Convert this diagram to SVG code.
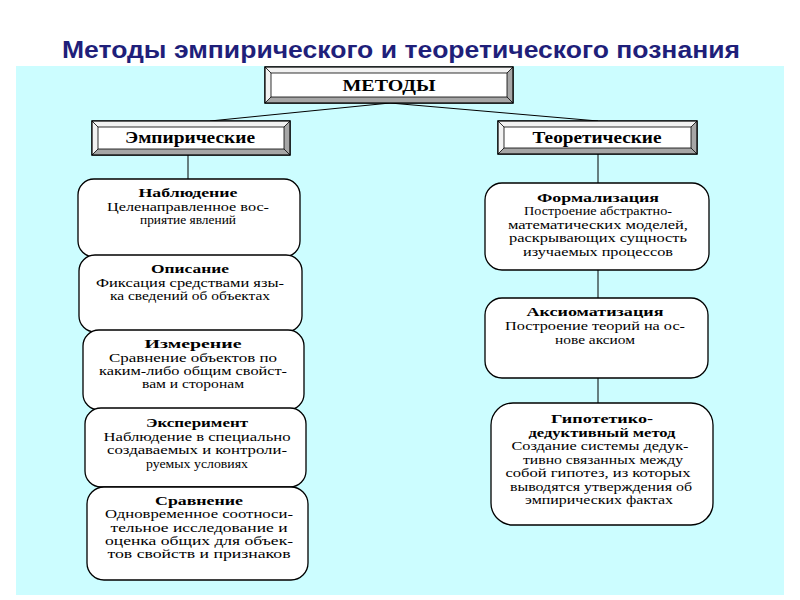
<svg xmlns="http://www.w3.org/2000/svg" width="800" height="600" viewBox="0 0 800 600">
<style>
.title{font-family:"Liberation Sans",Arial,sans-serif;font-weight:bold;font-size:23px;fill:#1f1f7a;text-anchor:middle}
.hd{font-family:"Liberation Serif","Times New Roman",serif;font-weight:bold;font-size:17px;fill:#000;text-anchor:middle}
.bt{font-family:"Liberation Serif","Times New Roman",serif;font-weight:bold;font-size:11.8px;fill:#000;text-anchor:middle}
.tx{font-family:"Liberation Serif","Times New Roman",serif;font-size:11.6px;fill:#000;text-anchor:middle}
.outer{fill:#fff;stroke:#000;stroke-width:1.2}
.dark{fill:#a6a6a6;stroke:none}
.light{fill:#f2f2f2;stroke:none}
.inner{fill:#fff;stroke:#000;stroke-width:0.8}
.cl{stroke:#000;stroke-width:0.8}
.rb{fill:#fff;stroke:#000;stroke-width:1.3}
.conn{stroke:#000;stroke-width:1;fill:none}
</style>
<rect x="0" y="0" width="800" height="600" fill="#fff"/>
<rect x="16" y="66" width="768" height="529" fill="#ccfdff"/>
<text class="title" x="401" y="58" textLength="678" lengthAdjust="spacingAndGlyphs">Методы эмпирического и теоретического познания</text>

<g id="connectors">
<path class="conn" d="M390 103 L210 121"/>
<path class="conn" d="M390 103 L598 121"/>
<path class="conn" d="M188 155 L188 179"/>
<path class="conn" d="M598 154 L598 183"/>
<path class="conn" d="M598 270 L598 298"/>
<path class="conn" d="M598 378 L598 403"/>
</g>

<g id="metody">
<rect class="outer" x="265" y="67" width="248" height="36"/>
<polygon class="light" points="265,67 513,67 507,73 271,73"/>
<polygon class="light" points="265,67 271,73 271,97 265,103"/>
<polygon class="dark" points="513,67 513,103 507,97 507,73"/>
<polygon class="dark" points="265,103 513,103 507,97 271,97"/>
<rect class="inner" x="271" y="73" width="236" height="24"/>
<path class="cl" d="M265 67 L271 73 M513 67 L507 73 M265 103 L271 97 M513 103 L507 97"/>
<rect x="265" y="67" width="248" height="36" fill="none" stroke="#000" stroke-width="1.2"/>
<text class="hd" x="389" y="91" textLength="93" lengthAdjust="spacingAndGlyphs">МЕТОДЫ</text>
</g>

<g id="empiric">
<rect class="outer" x="92" y="121" width="198" height="34"/>
<polygon class="light" points="92,121 290,121 284,127 98,127"/>
<polygon class="light" points="92,121 98,127 98,149 92,155"/>
<polygon class="dark" points="290,121 290,155 284,149 284,127"/>
<polygon class="dark" points="92,155 290,155 284,149 98,149"/>
<rect class="inner" x="98" y="127" width="186" height="22"/>
<path class="cl" d="M92 121 L98 127 M290 121 L284 127 M92 155 L98 149 M290 155 L284 149"/>
<rect x="92" y="121" width="198" height="34" fill="none" stroke="#000" stroke-width="1.2"/>
<text class="hd" x="190" y="143" font-size="15" textLength="130" lengthAdjust="spacingAndGlyphs">Эмпирические</text>
</g>

<g id="theor">
<rect class="outer" x="498" y="121" width="199" height="33"/>
<polygon class="light" points="498,121 697,121 691,127 504,127"/>
<polygon class="light" points="498,121 504,127 504,148 498,154"/>
<polygon class="dark" points="697,121 697,154 691,148 691,127"/>
<polygon class="dark" points="498,154 697,154 691,148 504,148"/>
<rect class="inner" x="504" y="127" width="187" height="21"/>
<path class="cl" d="M498 121 L504 127 M697 121 L691 127 M498 154 L504 148 M697 154 L691 148"/>
<rect x="498" y="121" width="199" height="33" fill="none" stroke="#000" stroke-width="1.2"/>
<text class="hd" x="597" y="143" font-size="15" textLength="129" lengthAdjust="spacingAndGlyphs">Теоретические</text>
</g>

<g id="nabl">
<rect class="rb" x="78" y="179" width="222" height="78" rx="16"/>
<text class="bt" x="188" y="197" textLength="99" lengthAdjust="spacingAndGlyphs">Наблюдение</text>
<text class="tx" x="188" y="211" textLength="162" lengthAdjust="spacingAndGlyphs">Целенаправленное вос-</text>
<text class="tx" x="188" y="224" textLength="96" lengthAdjust="spacingAndGlyphs">приятие явлений</text>
</g>

<g id="opis">
<rect class="rb" x="79" y="255" width="223" height="77" rx="16"/>
<text class="bt" x="190" y="273" textLength="78" lengthAdjust="spacingAndGlyphs">Описание</text>
<text class="tx" x="190" y="287" textLength="188" lengthAdjust="spacingAndGlyphs">Фиксация средствами язы-</text>
<text class="tx" x="190" y="300" textLength="160" lengthAdjust="spacingAndGlyphs">ка сведений об объектах</text>
</g>

<g id="izm">
<rect class="rb" x="83" y="330" width="221" height="80" rx="16"/>
<text class="bt" x="193" y="348" textLength="97" lengthAdjust="spacingAndGlyphs">Измерение</text>
<text class="tx" x="193" y="362" textLength="168" lengthAdjust="spacingAndGlyphs">Сравнение объектов по</text>
<text class="tx" x="193" y="375" textLength="188" lengthAdjust="spacingAndGlyphs">каким-либо общим свойст-</text>
<text class="tx" x="193" y="388" textLength="102" lengthAdjust="spacingAndGlyphs">вам и сторонам</text>
</g>

<g id="eksp">
<rect class="rb" x="85" y="408" width="221" height="79" rx="16"/>
<text class="bt" x="197" y="427" textLength="102" lengthAdjust="spacingAndGlyphs">Эксперимент</text>
<text class="tx" x="197" y="441" textLength="187" lengthAdjust="spacingAndGlyphs">Наблюдение в специально</text>
<text class="tx" x="197" y="454" textLength="180" lengthAdjust="spacingAndGlyphs">создаваемых и контроли-</text>
<text class="tx" x="197" y="468" textLength="102" lengthAdjust="spacingAndGlyphs">руемых условиях</text>
</g>

<g id="sravn">
<rect class="rb" x="87" y="487" width="221" height="93" rx="17"/>
<text class="bt" x="199" y="505" textLength="88" lengthAdjust="spacingAndGlyphs">Сравнение</text>
<text class="tx" x="199" y="518" textLength="188" lengthAdjust="spacingAndGlyphs">Одновременное соотноси-</text>
<text class="tx" x="199" y="532" textLength="177" lengthAdjust="spacingAndGlyphs">тельное исследование и</text>
<text class="tx" x="199" y="545" textLength="188" lengthAdjust="spacingAndGlyphs">оценка общих для объек-</text>
<text class="tx" x="199" y="558" textLength="183" lengthAdjust="spacingAndGlyphs">тов свойств и признаков</text>
</g>

<g id="formal">
<rect class="rb" x="485" y="183" width="224" height="87" rx="17"/>
<text class="bt" x="598" y="202" textLength="122" lengthAdjust="spacingAndGlyphs">Формализация</text>
<text class="tx" x="598" y="215" textLength="148" lengthAdjust="spacingAndGlyphs">Построение абстрактно-</text>
<text class="tx" x="598" y="229" textLength="180" lengthAdjust="spacingAndGlyphs">математических моделей,</text>
<text class="tx" x="598" y="242" textLength="178" lengthAdjust="spacingAndGlyphs">раскрывающих сущность</text>
<text class="tx" x="598" y="256" textLength="150" lengthAdjust="spacingAndGlyphs">изучаемых процессов</text>
</g>

<g id="aksiom">
<rect class="rb" x="485" y="298" width="223" height="80" rx="17"/>
<text class="bt" x="595" y="316" textLength="137" lengthAdjust="spacingAndGlyphs">Аксиоматизация</text>
<text class="tx" x="595" y="330" textLength="180" lengthAdjust="spacingAndGlyphs">Построение теорий на ос-</text>
<text class="tx" x="595" y="344" textLength="80" lengthAdjust="spacingAndGlyphs">нове аксиом</text>
</g>

<g id="gipot">
<rect class="rb" x="491" y="403" width="222" height="122" rx="22"/>
<text class="bt" x="602" y="423" textLength="102" lengthAdjust="spacingAndGlyphs">Гипотетико-</text>
<text class="bt" x="602" y="437" textLength="147" lengthAdjust="spacingAndGlyphs">дедуктивный метод</text>
<text class="tx" x="600" y="450" textLength="177" lengthAdjust="spacingAndGlyphs">Создание системы дедук-</text>
<text class="tx" x="603" y="464" textLength="160" lengthAdjust="spacingAndGlyphs">тивно связанных между</text>
<text class="tx" x="598" y="477" textLength="185" lengthAdjust="spacingAndGlyphs">собой гипотез, из которых</text>
<text class="tx" x="601" y="491" textLength="182" lengthAdjust="spacingAndGlyphs">выводятся утверждения об</text>
<text class="tx" x="599" y="504" textLength="148" lengthAdjust="spacingAndGlyphs">эмпирических фактах</text>
</g>
</svg>
